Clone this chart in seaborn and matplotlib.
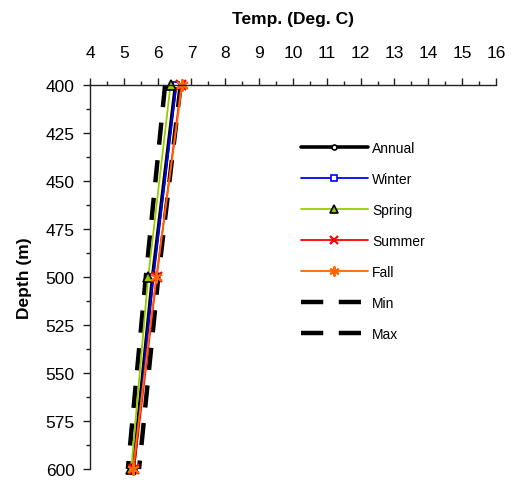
import matplotlib
matplotlib.use("Agg")
import matplotlib.pyplot as plt
from matplotlib.lines import Line2D
from matplotlib.ticker import MultipleLocator
import seaborn as sns
import pandas as pd

sns.set_style("white")
plt.rcParams["font.family"] = ["Liberation Sans", "DejaVu Sans"]
plt.rcParams.update({"text.color": "black", "axes.labelcolor": "black",
                     "xtick.color": "black", "ytick.color": "black"})

depth = [400, 500, 600]
annual = [6.53, 5.85, 5.28]
winter = [6.55, 5.87, 5.30]
spring = [6.38, 5.72, 5.22]
summer = [6.70, 5.97, 5.30]
fall = [6.72, 5.96, 5.27]
t_min = [6.22, 5.65, 5.12]
t_max = [6.68, 6.02, 5.45]

series_names = ["Annual", "Winter", "Spring", "Summer", "Fall", "Min", "Max"]
series_vals = [annual, winter, spring, summer, fall, t_min, t_max]

styles = {
    "Annual": dict(color="black", lw=2.6, marker="o", ms=4.5, mfc="white", mec="black", mew=1.2),
    "Winter": dict(color="#0000FF", lw=1.3, marker="s", ms=5, mfc="white", mec="#0000FF", mew=1.2),
    "Spring": dict(color="#99CC00", lw=1.3, marker="^", ms=7, mfc="#99CC00", mec="black", mew=1.2),
    "Summer": dict(color="#FF0000", lw=1.3, marker="x", ms=7, mfc="none", mec="#FF0000", mew=1.6),
    "Fall": dict(color="#FF6600", lw=1.3, marker=(6, 2, 0), ms=9, mfc="#FF6600", mec="#FF6600", mew=1.4),
    "Min": dict(color="black", lw=3.2, ls=(0, (5, 3.5))),
    "Max": dict(color="black", lw=3.2, ls=(0, (5, 3.5))),
}

df = pd.DataFrame(
    [(n, t, d) for n, vals in zip(series_names, series_vals) for t, d in zip(vals, depth)],
    columns=["series", "temp", "depth"],
)

fig = plt.figure(figsize=(5.13, 4.81), dpi=100)
ax = fig.add_axes([0.1754, 0.0229, 0.7914, 0.7983])

draw_order = ["Min", "Max", "Annual", "Winter", "Spring", "Summer", "Fall"]
for name in draw_order:
    st = dict(styles[name])
    ls = st.pop("ls", "-")
    lw = st.pop("lw")
    color = st.pop("color")
    sub = df[df["series"] == name]
    sns.lineplot(data=sub, x="temp", y="depth", sort=False, estimator=None,
                 ax=ax, color=color, linewidth=lw, linestyle=ls, clip_on=False, **st)

ax.set_xlim(4, 16)
ax.set_ylim(600, 400)
ax.xaxis.tick_top()
ax.xaxis.set_label_position("top")
ax.xaxis.set_major_locator(MultipleLocator(1))
ax.xaxis.set_minor_locator(MultipleLocator(0.5))
ax.yaxis.set_major_locator(MultipleLocator(25))
ax.yaxis.set_minor_locator(MultipleLocator(12.5))
ax.tick_params(axis="both", which="major", direction="out", length=5, width=1,
               labelsize=12.5, color="#222222", labelcolor="black", pad=6)
ax.tick_params(axis="both", which="minor", direction="out", length=3, width=1, color="#222222")
ax.tick_params(axis="x", which="both", top=True, bottom=False)
ax.tick_params(axis="y", which="both", left=True, right=False)
ax.tick_params(axis="x", which="major", pad=13)

for side in ["right", "bottom"]:
    ax.spines[side].set_visible(False)
for side in ["left", "top"]:
    ax.spines[side].set_color("#222222")
    ax.spines[side].set_linewidth(1)

ax.set_xlabel("Temp. (Deg. C)", fontsize=12.5, fontweight="bold", labelpad=16, color="black")
ax.set_ylabel("Depth (m)", fontsize=12.5, fontweight="bold", labelpad=10, color="black")

handles = []
for name in series_names:
    st = dict(styles[name])
    ls = st.pop("ls", "-")
    lw = st.pop("lw")
    color = st.pop("color")
    if "ms" in st:
        st["ms"] = st["ms"] * 0.8
    handles.append(Line2D([], [], color=color, linewidth=lw, linestyle=ls, **st))

leg = ax.legend(handles, series_names, loc="upper left", bbox_to_anchor=(0.505, 0.869),
                frameon=False, fontsize=10, handlelength=4.85, handletextpad=0.3,
                labelspacing=1.22, borderaxespad=0)
for t in leg.get_texts():
    t.set_color("black")

fig.savefig("out.png", dpi=100)
